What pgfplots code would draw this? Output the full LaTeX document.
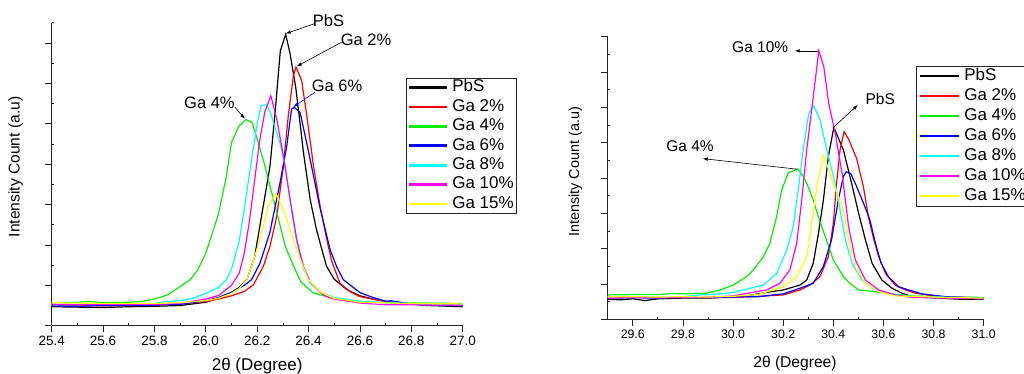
\documentclass[border=0pt]{standalone}
\usepackage{fontspec}
\setmainfont{Liberation Sans}
\usepackage{pgfplots}
\pgfplotsset{compat=1.18}
\usetikzlibrary{arrows.meta}

\definecolor{oRed}{RGB}{255,0,0}
\definecolor{oGreen}{RGB}{0,240,0}
\definecolor{oBlue}{RGB}{0,0,255}
\definecolor{oCyan}{RGB}{0,255,255}
\definecolor{oMagenta}{RGB}{255,0,255}
\definecolor{oYellow}{RGB}{255,255,0}

\tikzset{ann/.style={-{Latex[length=5pt,width=3.5pt]}, line width=0.6pt}}
\pgfplotsset{
  xrd/.style={
    scale only axis, anchor=south west,
    axis lines=left, axis line style={-, line width=0.8pt, black!85},
    tick align=outside, major tick length=6.7pt, minor tick length=2.3pt,
    tick style={black!85, line width=0.7pt},
    minor x tick style={yshift=2.3pt}, minor y tick style={xshift=2.3pt},
    minor y tick num=1,
    ytick={0,1,2,3,4,5,6,7,8}, yticklabels={},
    /pgf/number format/assume math mode=true,
    /pgf/number format/fixed, /pgf/number format/fixed zerofill, /pgf/number format/precision=1,
    clip=false,
    every axis plot/.append style={line width=1.2pt, mark=none},
    legend cell align=left,
  },
}

\begin{document}
\begin{tikzpicture}
\useasboundingbox (0,0) rectangle (1024pt,373pt);

% ---------------- left panel ----------------
\begin{axis}[xrd,
  at={(51.7pt,47.3pt)}, width=411pt, height=303pt,
  xmin=25.4, xmax=27.0, ymin=0, ymax=7.5,
  xtick={25.4,25.6,25.8,26.0,26.2,26.4,26.6,26.8,27.0},
  minor xtick={25.5,25.7,25.9,26.1,26.3,26.5,26.7,26.9},
  xticklabel style={font=\fontsize{13.5}{15}\selectfont},
  xlabel={2θ (Degree)}, ylabel={Intensity Count (a.u)},
  xlabel style={font=\fontsize{17}{19}\selectfont, at={(axis description cs:0.5,-0.132)}, anchor=center},
  ylabel style={font=\fontsize{15.6}{18}\selectfont, at={(axis description cs:-0.0876,0.524)}, anchor=center},
  legend style={at={(axis description cs:0.8613,0.8191)}, anchor=north west,
    draw=black!85, line width=0.8pt, font=\fontsize{17}{19}\selectfont,
    inner xsep=3pt, inner ysep=1.5pt, row sep=3pt, column sep=5pt,
    nodes={inner sep=0pt, text height=12.4pt, text depth=4pt}},
  legend image code/.code={\fill[#1] (0pt,-0.75pt) rectangle (37pt,0.75pt);},
]
\addplot[black] coordinates {(25.40,0.47)(25.50,0.46)(25.60,0.45)(25.70,0.47)(25.80,0.48)(25.90,0.50)(26.00,0.58)(26.05,0.68)(26.10,0.82)(26.13,0.95)(26.16,1.14)(26.19,1.7)(26.21,2.46)(26.23,3.2)(26.25,3.96)(26.27,5.3)(26.29,6.8)(26.30,7.0)(26.311,7.21)(26.328,6.73)(26.35,5.9)(26.367,5.0)(26.38,4.29)(26.406,3.13)(26.43,2.4)(26.452,1.88)(26.47,1.47)(26.50,1.15)(26.55,0.89)(26.60,0.74)(26.665,0.64)(26.75,0.56)(26.86,0.50)(27.00,0.47)};
\addlegendentry{PbS}
\addplot[oRed] coordinates {(25.40,0.50)(25.50,0.50)(25.60,0.49)(25.70,0.50)(25.80,0.51)(25.90,0.54)(26.00,0.60)(26.05,0.66)(26.10,0.74)(26.15,0.85)(26.185,1.01)(26.224,1.47)(26.25,1.97)(26.276,2.71)(26.302,3.96)(26.321,5.2)(26.341,6.19)(26.351,6.40)(26.373,6.07)(26.393,5.2)(26.419,3.96)(26.445,2.96)(26.471,2.13)(26.49,1.6)(26.522,1.05)(26.56,0.85)(26.60,0.72)(26.73,0.56)(26.85,0.52)(27.00,0.50)};
\addlegendentry{Ga 2\%}
\addplot[oGreen] coordinates {(25.40,0.57)(25.50,0.58)(25.55,0.60)(25.60,0.57)(25.70,0.58)(25.75,0.60)(25.80,0.66)(25.85,0.76)(25.90,0.97)(25.94,1.14)(25.97,1.4)(26.00,1.8)(26.03,2.38)(26.05,2.79)(26.08,3.7)(26.10,4.54)(26.13,4.95)(26.157,5.10)(26.18,5.03)(26.20,4.62)(26.23,3.96)(26.25,3.45)(26.29,2.46)(26.31,1.95)(26.354,1.30)(26.37,1.09)(26.418,0.81)(26.496,0.68)(26.60,0.60)(26.70,0.57)(26.85,0.56)(27.00,0.55)};
\addlegendentry{Ga 4\%}
\addplot[oBlue] coordinates {(25.40,0.49)(25.50,0.48)(25.60,0.50)(25.70,0.50)(25.80,0.51)(25.90,0.53)(26.00,0.62)(26.05,0.70)(26.10,0.83)(26.15,1.0)(26.178,1.14)(26.211,1.55)(26.249,2.30)(26.289,3.54)(26.315,4.45)(26.334,5.37)(26.345,5.40)(26.367,5.28)(26.39,4.6)(26.406,4.12)(26.445,2.9)(26.484,1.88)(26.51,1.45)(26.535,1.14)(26.60,0.82)(26.65,0.70)(26.704,0.60)(26.72,0.62)(26.795,0.54)(26.90,0.51)(27.00,0.49)};
\addlegendentry{Ga 6\%}
\addplot[oCyan] coordinates {(25.40,0.52)(25.50,0.52)(25.60,0.53)(25.70,0.53)(25.80,0.55)(25.85,0.60)(25.90,0.62)(25.95,0.68)(26.00,0.80)(26.05,0.95)(26.08,1.14)(26.10,1.4)(26.13,2.1)(26.15,2.9)(26.18,4.2)(26.20,5.0)(26.215,5.45)(26.235,5.47)(26.25,5.3)(26.27,4.9)(26.29,4.5)(26.31,3.9)(26.33,3.0)(26.35,2.2)(26.36,1.9)(26.38,1.4)(26.406,1.05)(26.45,0.82)(26.50,0.70)(26.60,0.60)(26.80,0.54)(27.00,0.51)};
\addlegendentry{Ga 8\%}
\addplot[oMagenta] coordinates {(25.40,0.53)(25.50,0.52)(25.60,0.53)(25.70,0.52)(25.80,0.53)(25.90,0.55)(26.00,0.66)(26.05,0.75)(26.08,0.9)(26.10,1.0)(26.13,1.3)(26.15,1.8)(26.17,2.6)(26.19,3.6)(26.21,4.6)(26.23,5.3)(26.253,5.69)(26.276,5.12)(26.302,4.2)(26.328,3.13)(26.354,2.13)(26.38,1.47)(26.406,1.09)(26.45,0.80)(26.47,0.72)(26.50,0.66)(26.60,0.56)(26.70,0.52)(27.00,0.51)};
\addlegendentry{Ga 10\%}
\addplot[oYellow] coordinates {(25.40,0.57)(25.50,0.56)(25.60,0.55)(25.70,0.55)(25.80,0.55)(25.90,0.57)(26.00,0.62)(26.05,0.68)(26.10,0.80)(26.13,0.92)(26.16,1.14)(26.19,1.7)(26.21,2.13)(26.243,2.96)(26.273,3.27)(26.302,2.88)(26.34,2.13)(26.37,1.6)(26.399,1.14)(26.45,0.82)(26.50,0.68)(26.60,0.58)(26.80,0.55)(27.00,0.54)};
\addlegendentry{Ga 15\%}

\draw[ann] (axis cs:26.425,7.48) -- (axis cs:26.311,7.23);
\node[anchor=west, inner sep=0pt, font=\fontsize{16.5}{18}\selectfont] at (axis cs:26.416,7.56) {PbS};
\draw[ann] (axis cs:26.529,7.02) -- (axis cs:26.354,6.42);
\node[anchor=west, inner sep=0pt, font=\fontsize{16.5}{18}\selectfont] at (axis cs:26.525,7.08) {Ga 2\%};
\draw[ann, oBlue] (axis cs:26.425,5.78) -- (axis cs:26.340,5.41);
\node[anchor=west, inner sep=0pt, font=\fontsize{16.5}{18}\selectfont] at (axis cs:26.412,5.95) {Ga 6\%};
\draw[ann] (axis cs:26.113,5.41) -- (axis cs:26.152,5.12);
\node[anchor=west, inner sep=0pt, font=\fontsize{16.5}{18}\selectfont] at (axis cs:25.915,5.51) {Ga 4\%};
\end{axis}

% ---------------- right panel ----------------
\begin{axis}[xrd,
  at={(607.7pt,53.7pt)}, width=376pt, height=282.6pt,
  xmin=29.5, xmax=31.0, ymin=0, ymax=8,
  xtick={29.6,29.8,30.0,30.2,30.4,30.6,30.8,31.0},
  minor xtick={29.5,29.7,29.9,30.1,30.3,30.5,30.7,30.9},
  xticklabel style={font=\fontsize{12.3}{14}\selectfont},
  xlabel={2θ (Degree)}, ylabel={Intensity Count (a.u)},
  xlabel style={font=\fontsize{15.6}{18}\selectfont, at={(axis description cs:0.498,-0.156)}, anchor=center},
  ylabel style={font=\fontsize{14.4}{17}\selectfont, at={(axis description cs:-0.086,0.522)}, anchor=center},
  legend style={at={(axis description cs:0.8207,0.8974)}, anchor=north west,
    draw=black!85, line width=0.8pt, font=\fontsize{17}{19}\selectfont,
    inner xsep=3pt, inner ysep=1.5pt, row sep=3pt, column sep=5pt,
    nodes={inner sep=0pt, text height=13pt, text depth=4pt}},
  legend image code/.code={\fill[#1] (0pt,-0.75pt) rectangle (38.4pt,0.75pt);},
]
\addplot[black] coordinates {(29.50,0.57)(29.55,0.55)(29.60,0.58)(29.65,0.53)(29.70,0.58)(29.80,0.60)(29.90,0.60)(30.00,0.64)(30.05,0.66)(30.10,0.72)(30.15,0.78)(30.20,0.83)(30.267,0.97)(30.294,1.11)(30.32,1.59)(30.34,2.4)(30.36,3.35)(30.38,4.6)(30.402,5.43)(30.44,4.80)(30.473,3.85)(30.501,3.0)(30.528,2.25)(30.555,1.58)(30.594,1.11)(30.634,0.88)(30.674,0.74)(30.714,0.64)(30.847,0.59)(30.90,0.57)(31.00,0.57)};
\addlegendentry{PbS}
\addplot[oRed] coordinates {(29.50,0.62)(29.60,0.63)(29.70,0.62)(29.80,0.62)(29.90,0.61)(30.00,0.62)(30.10,0.65)(30.20,0.69)(30.267,0.83)(30.307,0.97)(30.347,1.21)(30.38,1.77)(30.40,2.72)(30.413,3.85)(30.427,4.80)(30.443,5.31)(30.461,5.10)(30.493,4.55)(30.52,3.76)(30.54,2.9)(30.56,2.3)(30.58,1.8)(30.608,1.3)(30.648,0.96)(30.688,0.83)(30.727,0.74)(30.82,0.64)(31.00,0.60)};
\addlegendentry{Ga 2\%}
\addplot[oGreen] coordinates {(29.50,0.69)(29.60,0.70)(29.70,0.70)(29.76,0.73)(29.80,0.72)(29.895,0.74)(29.948,0.83)(30.001,0.97)(30.054,1.21)(30.081,1.40)(30.121,1.77)(30.147,2.15)(30.174,2.91)(30.194,3.66)(30.22,4.14)(30.258,4.26)(30.28,4.05)(30.294,3.85)(30.32,3.38)(30.34,2.91)(30.37,2.3)(30.40,1.68)(30.44,1.21)(30.466,1.02)(30.501,0.83)(30.568,0.78)(30.634,0.72)(30.714,0.66)(30.85,0.63)(31.00,0.62)};
\addlegendentry{Ga 4\%}
\addplot[oBlue] coordinates {(29.50,0.60)(29.60,0.61)(29.70,0.60)(29.80,0.62)(29.90,0.61)(30.00,0.63)(30.10,0.64)(30.20,0.72)(30.267,0.88)(30.32,1.02)(30.36,1.49)(30.393,2.25)(30.42,3.38)(30.44,4.04)(30.452,4.18)(30.47,4.12)(30.493,3.76)(30.526,3.19)(30.546,2.81)(30.57,2.1)(30.59,1.6)(30.62,1.2)(30.661,0.92)(30.701,0.83)(30.754,0.72)(30.85,0.64)(31.00,0.60)};
\addlegendentry{Ga 6\%}
\addplot[oCyan] coordinates {(29.50,0.62)(29.60,0.63)(29.70,0.62)(29.80,0.64)(29.868,0.69)(29.95,0.72)(30.001,0.76)(30.068,0.88)(30.121,0.97)(30.174,1.30)(30.214,1.96)(30.24,2.62)(30.26,3.66)(30.28,4.80)(30.302,5.83)(30.322,6.04)(30.347,5.65)(30.374,4.8)(30.407,3.85)(30.427,3.1)(30.448,2.25)(30.475,1.58)(30.515,1.11)(30.555,0.88)(30.608,0.74)(30.688,0.66)(30.85,0.62)(31.00,0.60)};
\addlegendentry{Ga 8\%}
\addplot[oMagenta] coordinates {(29.50,0.60)(29.60,0.62)(29.70,0.61)(29.80,0.62)(29.90,0.63)(30.00,0.66)(30.068,0.75)(30.134,0.83)(30.187,1.02)(30.227,1.40)(30.254,2.15)(30.274,3.38)(30.294,4.80)(30.32,6.3)(30.342,7.60)(30.362,7.15)(30.382,6.1)(30.408,5.26)(30.435,4.13)(30.461,2.62)(30.488,1.68)(30.528,1.11)(30.581,0.83)(30.648,0.69)(30.714,0.62)(30.85,0.60)(31.00,0.58)};
\addlegendentry{Ga 10\%}
\addplot[oYellow] coordinates {(29.50,0.64)(29.60,0.64)(29.70,0.63)(29.80,0.64)(29.90,0.63)(30.00,0.65)(30.10,0.70)(30.20,0.92)(30.254,1.21)(30.294,1.77)(30.32,3.0)(30.336,3.85)(30.362,4.65)(30.395,3.94)(30.44,3.1)(30.461,2.25)(30.488,1.49)(30.528,1.02)(30.581,0.78)(30.648,0.66)(30.85,0.62)(31.00,0.60)};
\addlegendentry{Ga 15\%}

\draw[ann] (axis cs:30.339,7.60) -- (axis cs:30.246,7.60);
\node[anchor=west, inner sep=0pt, font=\fontsize{15.5}{17}\selectfont] at (axis cs:29.996,7.71) {Ga 10\%};
\draw[ann] (axis cs:30.397,5.41) -- (axis cs:30.498,6.07);
\node[anchor=west, inner sep=0pt, font=\fontsize{15.5}{17}\selectfont] at (axis cs:30.528,6.24) {PbS};
\draw[ann] (axis cs:30.255,4.25) -- (axis cs:29.879,4.55);
\node[anchor=west, inner sep=0pt, font=\fontsize{15.5}{17}\selectfont] at (axis cs:29.733,4.91) {Ga 4\%};
\end{axis}
\end{tikzpicture}
\end{document}
